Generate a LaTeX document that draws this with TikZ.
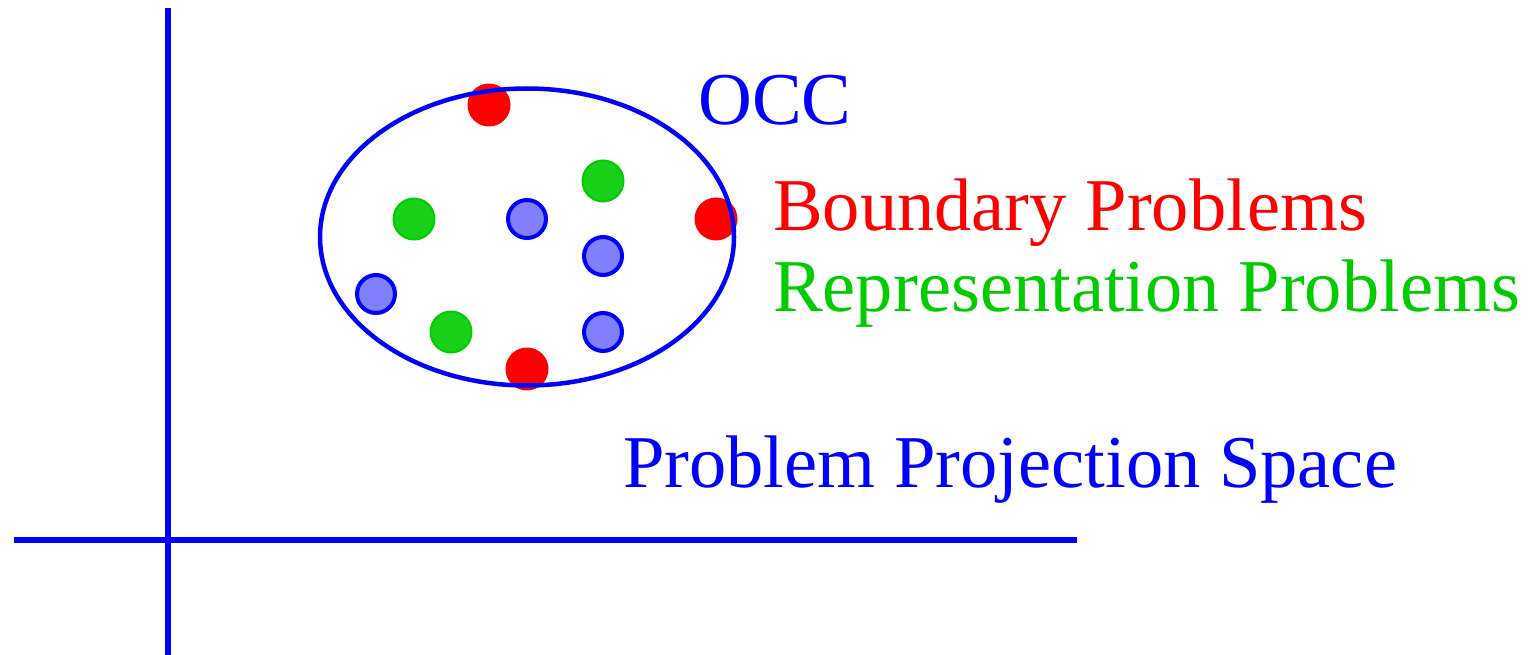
\documentclass[tikz,border=0pt]{standalone}
\usepackage{fontspec}
\setmainfont{Liberation Serif}
\usetikzlibrary{shapes.geometric}
\definecolor{ptred}{RGB}{255,0,0}
\definecolor{ptgreen}{RGB}{0,204,0}
\definecolor{ptgreenfill}{RGB}{25,208,25}
\definecolor{ptblue}{RGB}{0,0,255}
\definecolor{ptbluefill}{RGB}{128,128,255}
\begin{document}
\begin{tikzpicture}[x=1pt,y=-1pt,
  axisline/.style={ptblue,line width=6pt},
  reddot/.style={circle,fill=ptred,inner sep=0pt,minimum size=43pt},
  greendot/.style={circle,fill=ptgreenfill,draw=ptgreen,line width=2pt,inner sep=0pt,minimum size=41pt},
  bluedot/.style={circle,fill=ptbluefill,draw=ptblue,line width=4pt,inner sep=0pt,minimum size=38pt},
  lbl/.style={anchor=base west,inner sep=0pt,font=\fontsize{74.5}{82}\selectfont}]
\useasboundingbox (0,0) rectangle (1538,655);
\coordinate (vt) at (168,8);
\coordinate (vb) at (168,655);
\coordinate (hl) at (14,540);
\coordinate (hr) at (1077,540);
\draw[axisline] (vt) -- (vb);
\draw[axisline] (hl) -- (hr);
\node[reddot] (r1) at (489,105) {};
\node[reddot] (r2) at (716,219) {};
\node[reddot] (r3) at (527,369) {};
\node[greendot] (g1) at (603,181) {};
\node[greendot] (g2) at (414,219) {};
\node[greendot] (g3) at (451,332) {};
\node[bluedot] (b1) at (527,219) {};
\node[bluedot] (b2) at (603,256) {};
\node[bluedot] (b3) at (376,294) {};
\node[bluedot] (b4) at (603,332) {};
\node[draw=ptblue,line width=4.5pt,ellipse,minimum width=414pt,minimum height=297pt,inner sep=0pt] (occ) at (527,237) {};
\node[lbl,text=ptblue] (tocc) at (698,125) {OCC};
\node[lbl,text=ptred] (tbp) at (773,230) {Boundary Problems};
\node[lbl,text=ptgreen] (trp) at (773,311) {Representation Problems};
\node[lbl,text=ptblue] (tpps) at (623,487) {Problem Projection Space};
\end{tikzpicture}
\end{document}
